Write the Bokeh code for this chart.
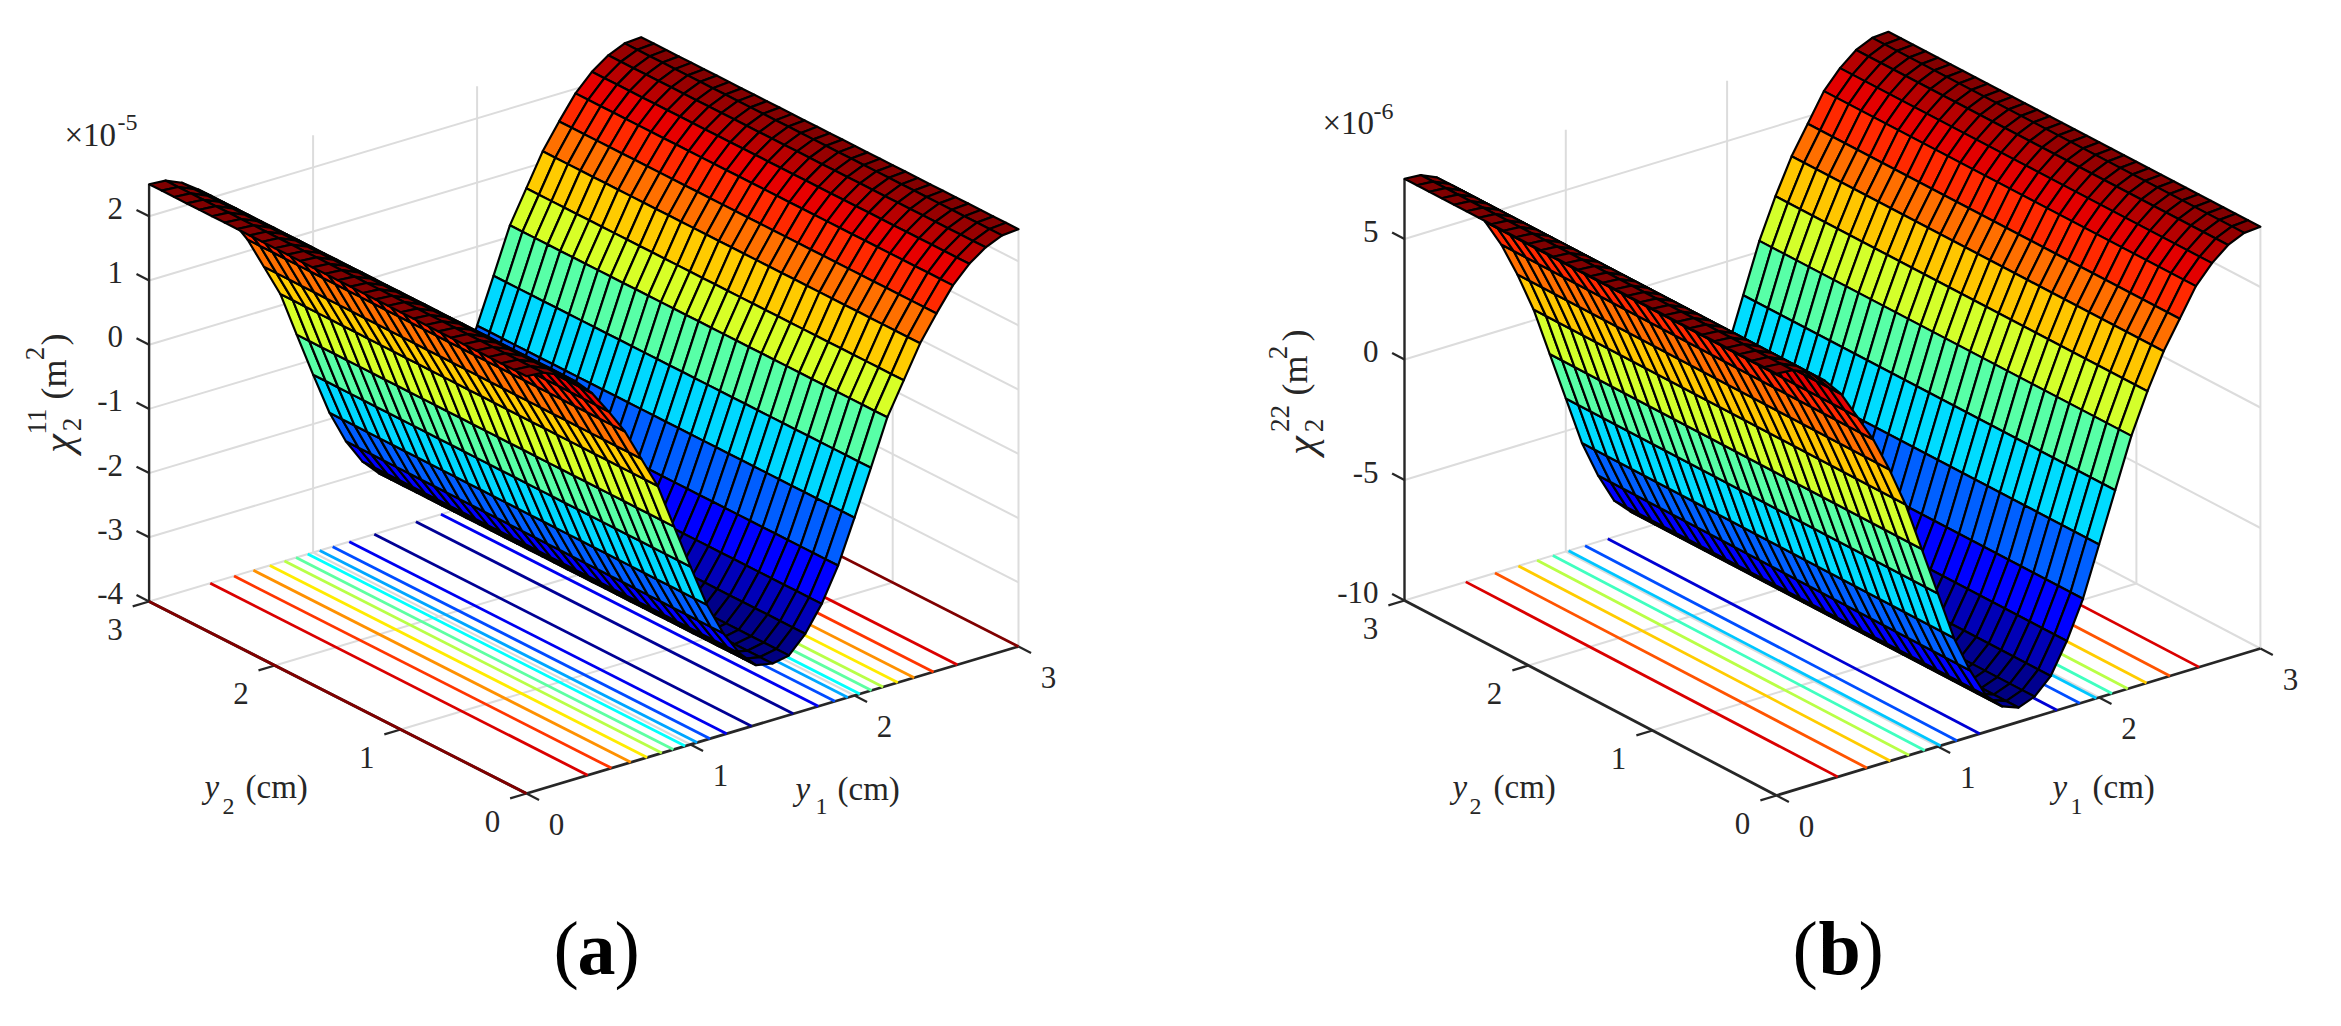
import math
import numpy as np
from bokeh.plotting import figure
from bokeh.models import Range1d
from bokeh.core.properties import value
from bokeh.embed import file_html
from bokeh.resources import INLINE

# ---------- data ----------
y1_values = [i / 10 for i in range(31)]
y2_values = [i / 10 for i in range(31)]

chi_11 = [2.50, 2.48, 2.37, 2.19, 1.93, 1.57, 1.18, 0.68, 0.18, -0.53, -1.23, -1.90, -2.42, -2.81, -3.07, -3.12,
          -3.07, -2.81, -2.42, -1.90, -1.23, -0.53, 0.18, 0.68, 1.18, 1.57, 1.93, 2.19, 2.37, 2.48, 2.50]
chi_22 = [7.50, 7.45, 7.15, 6.60, 5.85, 4.70, 3.55, 2.10, 0.45, -1.60, -3.65, -5.70, -7.25, -8.50, -9.15, -9.40,
          -9.15, -8.50, -7.25, -5.70, -3.65, -1.60, 0.45, 2.10, 3.55, 4.70, 5.85, 6.60, 7.15, 7.45, 7.50]

levels_a = [-3.0, -2.5, -2.0, -1.5, -1.0, -0.5, 0.0, 0.5, 1.0, 1.5, 2.0, 2.5]
levels_b = [-8, -6, -4, -2, 0, 2, 4, 6]

zticks_a = [-4, -3, -2, -1, 0, 1, 2]
zticks_b = [-10, -5, 0, 5]
xy_ticks = [0, 1, 2, 3]

FONT = "Liberation Serif"
INK = "#262626"
GRID = "#DCDCDC"

p = figure(width=2325, height=1010, output_backend="svg", toolbar_location=None,
           x_range=Range1d(0, 2325), y_range=Range1d(1010, 0), min_border=0)
p.axis.visible = False
p.grid.visible = False
p.outline_line_color = None


def jet(t):
    t = min(max(t, 0.0), 1.0)
    c = [min(max(1.5 - abs(4 * t - k), 0.0), 1.0) for k in (3, 2, 1)]
    return "#%02X%02X%02X" % tuple(int(round(v * 255)) for v in c)


def label(x, y, s, size=31, style="normal", align="center", angle=0.0, color=INK):
    p.text([x], [y], text=[s], text_font=value(FONT), text_font_size=value(f"{size}px"),
           text_font_style=style, text_align=align, text_baseline="middle",
           angle=angle, text_color=color)


def on_line(x, y, s, size, style="normal", color=INK):
    """Left-aligned text whose baseline lies at y."""
    label(x, y - 0.27 * size, s, size=size, style=style, align="left", color=color)


def panel(cfg):
    ox, oy = cfg["origin"]
    ux, uy = cfg["u"]
    vx, vy = cfg["v"]
    k = cfg["k"]
    zlo, zhi = cfg["zlim"]
    z = cfg["z"]
    zmin, zmax = min(z), max(z)

    def proj(a, b, c):
        return ox + ux * a + vx * b, oy + uy * a + vy * b - k * (c - zlo)

    def seg(a0, b0, c0, a1, b1, c1, color, w):
        x0, y0 = proj(a0, b0, c0)
        x1, y1 = proj(a1, b1, c1)
        p.line([x0, x1], [y0, y1], line_color=color, line_width=w)

    # back walls and floor grid
    for t in cfg["zticks"]:
        seg(0, 3, t, 3, 3, t, GRID, 2)
        seg(3, 3, t, 3, 0, t, GRID, 2)
    for a in (1, 2, 3):
        seg(a, 3, zlo, a, 3, zhi, GRID, 2)
    for b in (0, 1, 2):
        seg(3, b, zlo, 3, b, zhi, GRID, 2)
    for a in (1, 2):
        seg(a, 0, zlo, a, 3, zlo, GRID, 2)
    for b in (1, 2):
        seg(0, b, zlo, 3, b, zlo, GRID, 2)

    # axes and ticks
    seg(0, 3, zlo, 0, 3, zhi, INK, 2.4)
    seg(0, 0, zlo, 3, 0, zlo, INK, 2.8)
    seg(0, 0, zlo, 0, 3, zlo, INK, 2.8)
    for t in cfg["zticks"]:
        seg(0, 3, t, 0, 3.1, t, INK, 2.2)
        x, y = proj(0, 3, t)
        label(x - 26, y - 8, str(t), align="right")
    for t in xy_ticks:
        seg(t, 0, zlo, t, -0.1, zlo, INK, 2.2)
        seg(0, t, zlo, -0.1, t, zlo, INK, 2.2)
        x, y = proj(t, 0, zlo)
        label(x + 30, y + 31, str(t))
        x, y = proj(0, t, zlo)
        label(x - 34, y + 28, str(t))

    # contour lines on the floor
    for lv in cfg["levels"]:
        col = jet((lv - zmin) / (zmax - zmin))
        for i in range(len(z) - 1):
            if (z[i] - lv) * (z[i + 1] - lv) <= 0 and z[i] != z[i + 1]:
                a = y1_values[i] + (lv - z[i]) / (z[i + 1] - z[i]) * (y1_values[i + 1] - y1_values[i])
                seg(a, 0, zlo, a, 3, zlo, col, 2.8)

    # surface, painted from far to near
    xs, ys, cs = [], [], []
    for j in range(len(y2_values) - 2, -1, -1):
        for i in range(len(y1_values) - 2, -1, -1):
            corners = [(i, j), (i + 1, j), (i + 1, j + 1), (i, j + 1)]
            pts = [proj(y1_values[m], y2_values[n], z[m]) for m, n in corners]
            xs.append([q[0] for q in pts])
            ys.append([q[1] for q in pts])
            cs.append(jet((z[i] - zmin) / (zmax - zmin)))
    p.patches(xs, ys, fill_color=cs, line_color="black", line_width=2.2, line_join="round")


panel(dict(origin=(526, 793), u=(164, -49), v=(-125.8, -64), k=64.2, zlim=(-4, 2.5),
           z=chi_11, levels=levels_a, zticks=zticks_a))
panel(dict(origin=(1776, 795), u=(161.3, -49), v=(-124, -65), k=24.1, zlim=(-10, 7.5),
           z=chi_22, levels=levels_b, zticks=zticks_b))

UP = math.pi / 2

# panel (a) texts
on_line(64, 143, "\u00d710", 33)
on_line(117, 128, "-5", 24)
label(57, 443, "\u03c7", size=42, style="italic", angle=UP)
label(71, 424, "2", size=27, angle=UP)
label(36, 421, "11", size=27, angle=UP)
label(53, 379, "(m", size=36, angle=UP)
label(34, 353, "2", size=27, angle=UP)
label(53, 339, ")", size=36, angle=UP)
on_line(204, 795, "y", 33, style="italic")
on_line(222, 812, "2", 24)
on_line(245, 795, "(cm)", 33)
on_line(795, 797, "y", 33, style="italic")
on_line(815, 812, "1", 24)
on_line(837, 797, "(cm)", 33)
on_line(553, 968, "(", 76, color="black")
on_line(577, 968, "a", 76, style="bold", color="black")
on_line(614, 968, ")", 76, color="black")

# panel (b) texts
on_line(1322, 131, "\u00d710", 33)
on_line(1373, 117, "-6", 24)
label(1300, 445, "\u03c7", size=42, style="italic", angle=UP)
label(1313, 425, "2", size=27, angle=UP)
label(1279, 418, "22", size=27, angle=UP)
label(1294, 375, "(m", size=36, angle=UP)
label(1277, 352, "2", size=27, angle=UP)
label(1294, 335, ")", size=36, angle=UP)
on_line(1452, 795, "y", 33, style="italic")
on_line(1469, 812, "2", 24)
on_line(1493, 795, "(cm)", 33)
on_line(2052, 795, "y", 33, style="italic")
on_line(2070, 812, "1", 24)
on_line(2092, 795, "(cm)", 33)
on_line(1792, 968, "(", 76, color="black")
on_line(1818, 968, "b", 76, style="bold", color="black")
on_line(1858, 968, ")", 76, color="black")

open("out.html", "w").write(file_html(p, INLINE))
